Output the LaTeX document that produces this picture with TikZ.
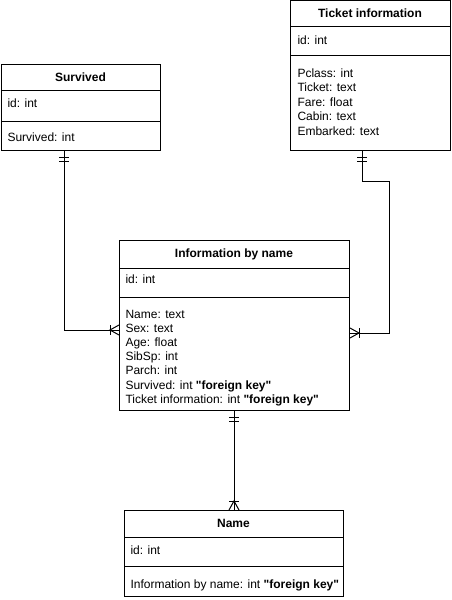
\documentclass[tikz,border=0pt]{standalone}
\usepackage{fontspec}
\setmainfont{Liberation Sans}[Ligatures=TeXOff]
\usetikzlibrary{calc}
\begin{document}
\begin{tikzpicture}[x=1pt,y=-1pt,line width=1pt,
  box/.style={draw,rectangle,anchor=north west,inner sep=0pt},
  ttl/.style={anchor=base,inner sep=0pt,font=\fontsize{12}{14}\selectfont\bfseries},
  attr/.style={anchor=base west,inner sep=0pt,font=\fontsize{12}{14}\selectfont},
  conn/.style={draw,line width=1pt}]
\useasboundingbox (0,0) rectangle (451,600);
% Survived
\node[box,minimum width=159pt,minimum height=86pt] (surv) at (1,64) {};
\draw (1,90) -- (160,90) (1,121) -- (160,121);
\node[ttl] (survT) at (80.5,81) {Survived};
\node[attr] (survA) at (7,107) {id: int};
\node[attr] (survB) at (7,141) {Survived: int};
% Ticket information
\node[box,minimum width=160pt,minimum height=150pt] (tick) at (290,0) {};
\draw (290,26) -- (450,26) (290,55) -- (450,55);
\node[ttl] (tickT) at (370,17) {Ticket information};
\node[attr] (tickA) at (297,44) {id: int};
\node[attr] (tickB) at (297,77) {Pclass: int};
\node[attr] (tickC) at (297,91.5) {Ticket: text};
\node[attr] (tickD) at (297,106) {Fare: float};
\node[attr] (tickE) at (297,120.5) {Cabin: text};
\node[attr] (tickF) at (297,135) {Embarked: text};
% Information by name
\node[box,minimum width=230pt,minimum height=170pt] (info) at (119,240) {};
\draw (119,268) -- (349,268) (119,297) -- (349,297);
\node[ttl] (infoT) at (234,257) {Information by name};
\node[attr] (infoA) at (125,283) {id: int};
\node[attr] (infoB) at (125,318) {Name: text};
\node[attr] (infoC) at (125,332.2) {Sex: text};
\node[attr] (infoD) at (125,346.4) {Age: float};
\node[attr] (infoE) at (125,360.6) {SibSp: int};
\node[attr] (infoF) at (125,374.8) {Parch: int};
\node[attr] (infoG) at (125,389) {Survived: int \textbf{"foreign key"}};
\node[attr] (infoH) at (125,403.2) {Ticket information: int \textbf{"foreign key"}};
% Name
\node[box,minimum width=219pt,minimum height=86pt] (name) at (124,510) {};
\draw (124,537) -- (343,537) (124,566) -- (343,566);
\node[ttl] (nameT) at (233.5,527) {Name};
\node[attr] (nameA) at (130,554) {id: int};
\node[attr] (nameB) at (130,588) {Information by name: int \textbf{"foreign key"}};
% connector ends
\coordinate (s1) at ($(surv.south west)+(63,0)$);
\coordinate (e1) at ($(info.north west)+(0,90)$);
\coordinate (s2) at ($(tick.south west)+(72,0)$);
\coordinate (e2) at ($(info.north east)+(0,93)$);
\coordinate (s3) at ($(info.south west)+(115,0)$);
\coordinate (e3) at ($(name.north west)+(110,0)$);
% connectors
\draw[conn] (s1) |- (e1);
\draw[conn] (s2) -- ++(0,30) -| ($(e2)+(39,0)$) -- (e2);
\draw[conn] (s3) -- (e3);
% mandatory one marks
\foreach \c in {s1,s2,s3}{
  \draw ($(\c)+(-5,6)$) -- ++(10,0);
  \draw ($(\c)+(-5,10)$) -- ++(10,0);
}
% one-to-many marks
\draw ($(e1)+(0,-5)$) -- ($(e1)+(-9,0)$) -- ($(e1)+(0,5)$);
\draw ($(e1)+(-9,-5)$) -- ++(0,10);
\draw ($(e2)+(0,-5)$) -- ($(e2)+(9,0)$) -- ($(e2)+(0,5)$);
\draw ($(e2)+(9,-5)$) -- ++(0,10);
\draw ($(e3)+(-5,0)$) -- ($(e3)+(0,-9)$) -- ($(e3)+(5,0)$);
\draw ($(e3)+(-5,-9)$) -- ++(10,0);
\end{tikzpicture}
\end{document}
